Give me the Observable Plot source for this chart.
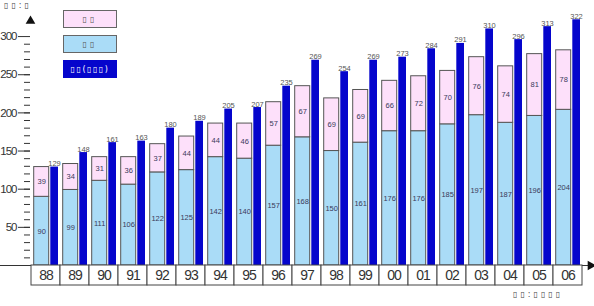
<!DOCTYPE html>
<html>
<head>
<meta charset="utf-8">
<script src="https://cdn.jsdelivr.net/npm/d3@7"></script>
<script src="https://cdn.jsdelivr.net/npm/@observablehq/plot@0.6"></script>
<style>
  html, body { margin: 0; padding: 0; background: #fff; }
  #wrap { position: relative; width: 594px; height: 306px; font-family: "Liberation Sans", Arial, sans-serif; }
  #wrap svg { position: absolute; left: 0; }
  #wrap svg g[aria-label="y-axis tick label"] text { letter-spacing: -1px; }
  #wrap svg.tbl g[aria-label="text"] text { letter-spacing: -1px; }
  .tofu { position: absolute; font-family: "DejaVu Sans", sans-serif; font-size: 8px; color: #444; letter-spacing: 3px; white-space: nowrap; }
  .lg { position: absolute; left: 63px; width: 54px; height: 18px; box-sizing: border-box; text-align: center; line-height: 17px; font-family: "DejaVu Sans", sans-serif; font-size: 8px; letter-spacing: 3px; white-space: nowrap; }
</style>
</head>
<body>
<div id="wrap"></div>
<script>
const years = ["88","89","90","91","92","93","94","95","96","97","98","99","00","01","02","03","04","05","06"];
const lower = [90,99,111,106,122,125,142,140,157,168,150,161,176,176,185,197,187,196,204];
const upper = [39,34,31,36,37,44,44,46,57,67,69,69,66,72,70,76,74,81,78];
const total = [129,148,161,163,180,189,205,207,235,269,254,269,273,284,291,310,296,313,322];
const unitLabel = "▯▯:▯";
const sourceLabel = "▯▯:▯▯▯▯";
const legendLabels = ["▯▯", "▯▯", "▯▯(▯▯▯)"];
const yMajor = [50,100,150,200,250,300];
const yMinor = d3.range(10, 300, 10);

const colors = {lower: "#aadcf7", upper: "#fde0fa", total: "#0505cc"};

const stacked = [];
years.forEach((y, i) => {
  stacked.push({year: y, series: "lower", value: lower[i]});
  stacked.push({year: y, series: "upper", value: upper[i]});
});
const totals = years.map((y, i) => ({year: y, value: total[i]}));

const wrap = document.getElementById("wrap");

const main = Plot.plot({
  width: 594, height: 306,
  marginLeft: 30, marginRight: 12, marginTop: 17, marginBottom: 41,
  style: {fontFamily: "'Liberation Sans', Arial, sans-serif", background: "transparent"},
  x: {domain: years, padding: 0, axis: null},
  y: {domain: [0, 325]},
  color: {domain: ["lower", "upper"], range: [colors.lower, colors.upper]},
  marks: [
    Plot.axisY({ticks: yMinor, tickSize: 6, tickFormat: () => "", stroke: "#333", label: null}),
    Plot.axisY({ticks: yMajor, tickSize: 12, tickPadding: 2, fontSize: 11.5, color: "#333", line: true, label: null}),
    Plot.barY(stacked, Plot.stackY({x: "year", y: "value", fill: "series", stroke: "#555", strokeWidth: 1, insetLeft: 2.7, insetRight: 11.3})),
    Plot.text(stacked, Plot.stackY({x: "year", y: "value", text: d => d.value, dx: -4.3, fontSize: 7.5, fill: "#3a3a5a"})),
    Plot.barY(totals, {x: "year", y: "value", fill: colors.total, insetLeft: 19.3, insetRight: 2}),
    Plot.text(totals, {x: "year", y: "value", text: d => d.value, dx: 8.5, dy: -1, lineAnchor: "bottom", fontSize: 7.5, fill: "#555"}),
    Plot.ruleY([0], {stroke: "#333", insetLeft: -30, insetRight: -6}),
    Plot.dot([0], {frameAnchor: "top-left", symbol: "triangle", r: 3.6, dy: 3.5, fill: "#111", stroke: "none"}),
    Plot.dot([0], {frameAnchor: "bottom-right", symbol: "triangle", r: 3.6, rotate: 90, dx: 8, fill: "#111", stroke: "none"})
  ]
});
main.style.top = "0px";
wrap.appendChild(main);

const table = Plot.plot({
  width: 594, height: 22,
  marginLeft: 30, marginRight: 12, marginTop: 1, marginBottom: 1,
  className: "tbl",
  style: {fontFamily: "'Liberation Sans', Arial, sans-serif", background: "transparent"},
  x: {domain: years, padding: 0, axis: null},
  marks: [
    Plot.cell(years, {x: d => d, fill: "white", stroke: "#444", inset: 0}),
    Plot.text(years, {x: d => d, text: d => d, fontSize: 14, fill: "#333"})
  ]
});
table.classList.add("tbl");
table.style.top = "263.5px";
wrap.appendChild(table);

function addDiv(cls, text, css) {
  const d = document.createElement("div");
  d.className = cls;
  d.textContent = text;
  Object.assign(d.style, css);
  wrap.appendChild(d);
}
addDiv("tofu", unitLabel, {left: "4px", top: "1px"});
addDiv("tofu", sourceLabel, {left: "513px", top: "290px"});
addDiv("lg", legendLabels[0], {top: "10px", background: colors.upper, border: "1px solid #666", color: "#555"});
addDiv("lg", legendLabels[1], {top: "35px", background: colors.lower, border: "1px solid #666", color: "#555"});
addDiv("lg", legendLabels[2], {top: "60px", background: colors.total, border: "1px solid #0505cc", color: "#fff", letterSpacing: "1.5px"});
</script>
</body>
</html>
